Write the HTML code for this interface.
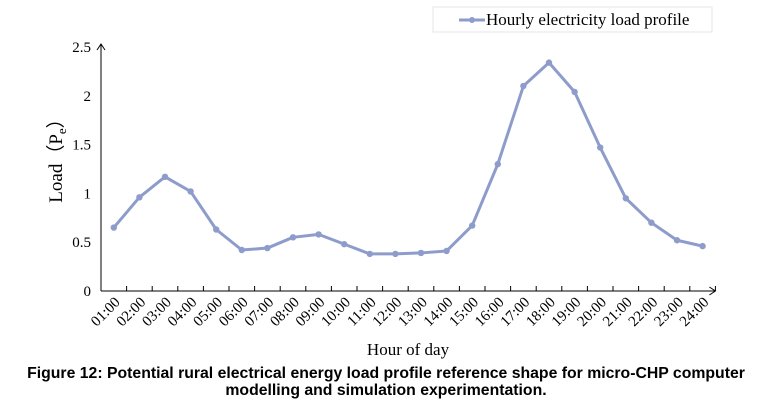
<!DOCTYPE html>
<html><head><meta charset="utf-8"><style>
body{margin:0;background:#fff;width:765px;height:403px;overflow:hidden}
svg text{font-family:"Liberation Serif",serif;fill:#000}
</style></head><body>
<svg width="765" height="403">
<g id="plot"></g>
<text x="386" y="378" text-anchor="middle" style="font-family:'Liberation Sans',sans-serif;font-weight:bold;font-size:15.8px">Figure 12: Potential rural electrical energy load profile reference shape for micro-CHP computer</text>
<text x="386" y="395" text-anchor="middle" style="font-family:'Liberation Sans',sans-serif;font-weight:bold;font-size:15.8px">modelling and simulation experimentation.</text>
<text x="408" y="355" text-anchor="middle" font-size="17">Hour of day</text>
<text transform="translate(62,156) rotate(-90)" text-anchor="middle" font-size="19">Load（P<tspan font-size="13" dy="4">e</tspan><tspan dy="-4">）</tspan></text>
<g>
<rect x="433" y="7" width="279" height="25" fill="#fff" stroke="#e4e4e4"/>
<line x1="459" y1="20" x2="485" y2="20" stroke="#8e9ccb" stroke-width="3"/>
<circle cx="472" cy="20" r="3" fill="#8e9ccb"/>
<text x="486" y="25" font-size="17">Hourly electricity load profile</text>
</g>
</svg>
<script>
const categories=["01:00","02:00","03:00","04:00","05:00","06:00","07:00","08:00","09:00","10:00","11:00","12:00","13:00","14:00","15:00","16:00","17:00","18:00","19:00","20:00","21:00","22:00","23:00","24:00"];
const loadValues=[0.65,0.96,1.17,1.02,0.63,0.42,0.44,0.55,0.58,0.48,0.38,0.38,0.39,0.41,0.67,1.30,2.10,2.34,2.04,1.47,0.95,0.70,0.52,0.46];
const yTicks=[0,0.5,1,1.5,2,2.5];
const NS="http://www.w3.org/2000/svg";
const g=document.getElementById('plot');
const x0=101,bw=25.6,yb=291,ymax=2.5,ypx=244;
const X=i=>x0+bw*(i+0.5);
const Y=v=>yb-v/ymax*ypx;
function mk(t,a){const e=document.createElementNS(NS,t);for(const k in a)e.setAttribute(k,a[k]);g.appendChild(e);return e;}
let e=mk('path',{d:`M${x0} ${yb}V${Y(2.5)-3} M${x0-4} ${Y(2.5)+3}L${x0} ${Y(2.5)-3}L${x0+4} ${Y(2.5)+3}`,stroke:'#000',fill:'none','stroke-width':1});


const xend=x0+bw*categories.length;
e=mk('path',{d:`M${x0} ${yb}H${xend} M${xend-6} ${yb-4}L${xend} ${yb}L${xend-6} ${yb+4}`,stroke:'#000',fill:'none','stroke-width':1});


yTicks.forEach(v=>{
 const t=mk('text',{x:x0-10,y:Y(v)+5,'text-anchor':'end','font-size':15});t.textContent=String(v);
 
 
});
categories.forEach((c,i)=>{
 const tx=x0+bw*(i+1);
 const tk=mk('line',{x1:tx,y1:yb,x2:tx,y2:yb-5,stroke:'#000'});
 
 
 const t=mk('text',{transform:`translate(${X(i)+7},${yb+12}) rotate(-45)`,'text-anchor':'end','font-size':15});
 t.textContent=c;
 
 
});
const line=mk('polyline',{points:loadValues.map((v,i)=>X(i)+','+Y(v)).join(' '),fill:'none',stroke:'#8e9ccb','stroke-width':3,'stroke-linejoin':'round'});


loadValues.forEach((v,i)=>{
 const c=mk('circle',{cx:X(i),cy:Y(v),r:3.2,fill:'#8e9ccb'});
 
 
});
</script>
</body></html>
